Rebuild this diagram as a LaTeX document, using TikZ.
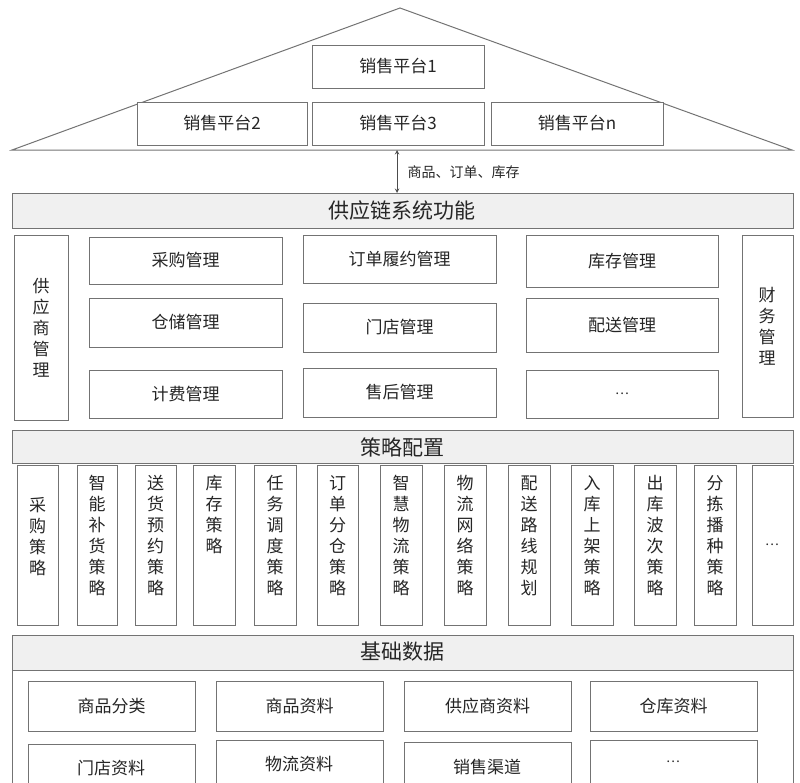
\documentclass[tikz,border=0pt]{standalone}
\usepackage{fontspec}
\setmainfont{Noto Sans CJK SC}
\begin{document}
\begin{tikzpicture}[x=1pt,y=-1pt,
  bx/.style={draw=black!55,line width=1pt,fill=white},
  hd/.style={draw=black!55,line width=1pt,fill=black!6},
  t/.style={font=\fontsize{17}{20}\selectfont,text=black!85},
  v/.style={font=\fontsize{17}{21}\selectfont,text=black!85,align=center}]
\useasboundingbox (0,0) rectangle (800,782);
\clip (0,0) rectangle (800,782);
% roof
\draw[black!55,line width=1pt] (12,150) -- (400,8) -- (792,150) -- cycle;
\newcommand\bb[6]{\draw[bx] (#1,#2) rectangle (#3,#4); \node[t] (#6) at ({(#1+#3)/2},{(#2+#4)/2}) {#5};}
\bb{312}{45}{484}{88}{销售平台1}{p1}
\bb{137}{102}{307}{145}{销售平台2}{p2}
\bb{312}{102}{484}{145}{销售平台3}{p3}
\bb{491}{102}{663}{145}{销售平台n}{pn}
\coordinate (a1) at (397,150); \coordinate (a2) at (397,193);
\draw[<->,>=stealth,black!70,line width=1pt] (a1) -- (a2);
\node[anchor=west,font=\fontsize{14}{16}\selectfont,text=black!85] (lab) at (404,172) {商品、订单、库存};
% supply chain
\draw[hd] (12,193) rectangle (793,228);
\node[font=\fontsize{21}{24}\selectfont,text=black!85] (h1) at (402,211) {供应链系统功能};
\draw[bx] (14,235) rectangle (68,420);
\node[v] (s) at (41,328) {供\\应\\商\\管\\理};
\draw[bx] (742,235) rectangle (793,417);
\node[v] (f) at (767,326) {财\\务\\管\\理};
\bb{89}{237}{282}{284}{采购管理}{m1}
\bb{303}{235}{496}{283}{订单履约管理}{m2}
\bb{526}{235}{718}{287}{库存管理}{m3}
\bb{89}{298}{282}{347}{仓储管理}{m4}
\bb{303}{303}{496}{352}{门店管理}{m5}
\bb{526}{298}{718}{352}{配送管理}{m6}
\bb{89}{370}{282}{418}{计费管理}{m7}
\bb{303}{368}{496}{417}{售后管理}{m8}
\bb{526}{370}{718}{418}{\fontsize{13}{14}\selectfont …}{m9}
% strategy
\draw[hd] (12,430) rectangle (793,463);
\node[font=\fontsize{21}{24}\selectfont,text=black!85] (h2) at (402,447) {策略配置};
\newcommand\vb[4]{\draw[bx] (#1,465) rectangle (#2,625); \node[v,anchor=north] (#4) at ({(#1+#2)/2},472) {#3};}
\draw[bx] (17,465) rectangle (58,625);
\node[v,anchor=north] (v1) at (37.5,494) {采\\购\\策\\略};
\vb{77}{117}{智\\能\\补\\货\\策\\略}{v2}
\vb{135}{176}{送\\货\\预\\约\\策\\略}{v3}
\vb{193}{235}{库\\存\\策\\略}{v4}
\vb{254}{296}{任\\务\\调\\度\\策\\略}{v5}
\vb{317}{358}{订\\单\\分\\仓\\策\\略}{v6}
\vb{380}{422}{智\\慧\\物\\流\\策\\略}{v7}
\vb{444}{486}{物\\流\\网\\络\\策\\略}{v8}
\vb{508}{550}{配\\送\\路\\线\\规\\划}{v9}
\vb{571}{613}{入\\库\\上\\架\\策\\略}{v10}
\vb{634}{676}{出\\库\\波\\次\\策\\略}{v11}
\vb{694}{736}{分\\拣\\播\\种\\策\\略}{v12}
\draw[bx] (752,465) rectangle (793,625);
\node[t,font=\fontsize{13}{14}\selectfont] (v13) at (772,545) {…};
% base data
\draw[bx] (12,635) rectangle (793,800);
\draw[hd] (12,635) rectangle (793,670);
\node[font=\fontsize{21}{24}\selectfont,text=black!85] (h3) at (402,652) {基础数据};
\bb{28}{681}{195}{731}{商品分类}{d1}
\bb{216}{681}{383}{731}{商品资料}{d2}
\bb{404}{681}{571}{731}{供应商资料}{d3}
\bb{590}{681}{757}{731}{仓库资料}{d4}
\draw[bx] (28,744) rectangle (195,800); \node[t] (d5) at (111,768) {门店资料};
\draw[bx] (216,740) rectangle (383,790); \node[t] (d6) at (299,764) {物流资料};
\draw[bx] (404,742) rectangle (571,800); \node[t] (d7) at (487,767) {销售渠道};
\draw[bx] (590,740) rectangle (757,790); \node[t,font=\fontsize{13}{14}\selectfont] (d8) at (673,762) {…};
\end{tikzpicture}
\end{document}
